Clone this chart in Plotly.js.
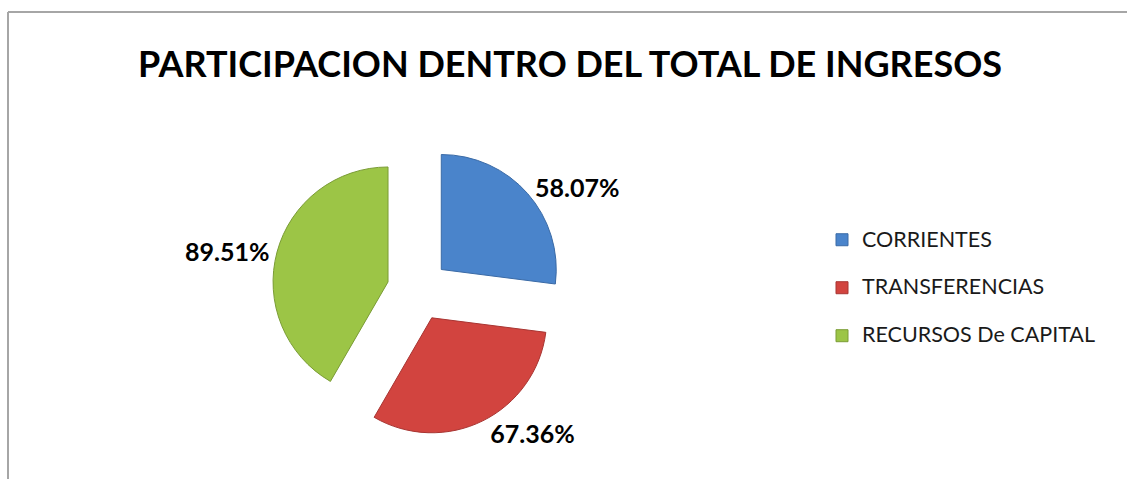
<!DOCTYPE html>
<html>
<head>
<meta charset="utf-8">
<script src="https://cdn.plot.ly/plotly-3.0.1.min.js"></script>
<style>html,body{margin:0;padding:0;background:#fff;}#chart{width:1127px;height:479px;}</style>
</head>
<body>
<div id="chart"></div>
<script>
var categories = ["CORRIENTES", "TRANSFERENCIAS", "RECURSOS De CAPITAL"];
var values = [58.07, 67.36, 89.51];
var colors = ["#4a84cb", "#d2443f", "#9cc546"];
var lineColors = ["#3a6aa6", "#a83532", "#7a9c35"];

var W = 1127, H = 479;
var legendLabels = categories.map(function (c) {
  return "<span style='font-size:21.5px'>" + c + "</span><br>&nbsp;";
});

var trace = {
  type: "pie",
  labels: legendLabels,
  values: values,
  sort: false,
  direction: "clockwise",
  rotation: 0,
  pull: [0.27, 0.27, 0.27],
  marker: { colors: colors, line: { color: lineColors, width: 1 } },
  texttemplate: "%{value:.2f}%",
  textposition: "outside",
  textfont: { family: "Lato, 'Open Sans', sans-serif", size: 25, color: "#000", weight: "bold" },
  domain: { x: [272 / W, 564 / W], y: [(H - 436) / H, (H - 144) / H] },
  hoverinfo: "value"
};

var layout = {
  width: W, height: H,
  margin: { l: 0, r: 0, t: 0, b: 0 },
  paper_bgcolor: "#fff",
  title: {
    text: "<b>PARTICIPACION DENTRO DEL TOTAL DE INGRESOS</b>",
    font: { family: "Lato, 'Open Sans', sans-serif", size: 36, color: "#000" },
    x: 570 / W, xanchor: "center", xref: "container",
    y: 1 - 64 / H, yanchor: "middle", yref: "container"
  },
  showlegend: true,
  legend: {
    x: 822 / W, xanchor: "left",
    y: 1 - 222 / H, yanchor: "top",
    valign: "top",
    font: { family: "Lato, 'Open Sans', sans-serif", size: 17.3, color: "#1a1a1a" },
    bgcolor: "rgba(0,0,0,0)"
  },
  shapes: [
    { type: "line", xref: "paper", yref: "paper", x0: 8 / W, x1: 1.05, y0: 1 - 12 / H, y1: 1 - 12 / H, line: { color: "#a6a6a6", width: 2 } },
    { type: "line", xref: "paper", yref: "paper", x0: 8 / W, x1: 8 / W, y0: 1 - 12 / H, y1: -0.05, line: { color: "#a6a6a6", width: 2 } }
  ]
};

Plotly.newPlot("chart", [trace], layout, { displayModeBar: false, staticPlot: true });
</script>
</body>
</html>
